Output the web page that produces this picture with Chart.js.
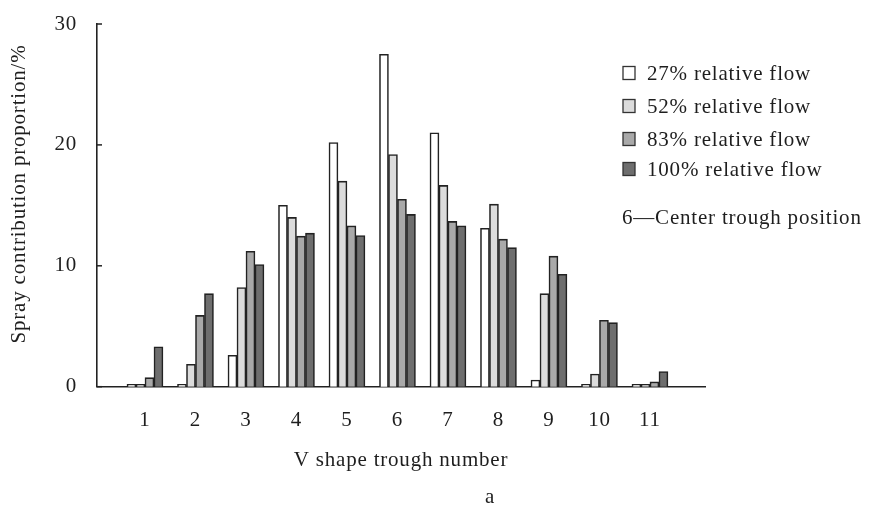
<!DOCTYPE html>
<html>
<head>
<meta charset="utf-8">
<script src="https://cdn.jsdelivr.net/npm/chart.js@4.4.1/dist/chart.umd.min.js"></script>
<style>
html,body{margin:0;padding:0;background:#fff;}
#wrap{width:871px;height:508px;}
</style>
</head>
<body>
<div id="wrap"><canvas id="c" width="871" height="508"></canvas></div>
<script>
// ---- data ----
const categories = [1, 2, 3, 4, 5, 6, 7, 8, 9, 10, 11];
const flow27  = [0.2, 0.2, 2.6, 15.0, 20.2, 27.5, 21.0, 13.1, 0.55, 0.2, 0.2];
const flow52  = [0.2, 1.85, 8.2, 14.0, 17.0, 19.2, 16.65, 15.1, 7.7, 1.05, 0.2];
const flow83  = [0.75, 5.9, 11.2, 12.45, 13.3, 15.5, 13.67, 12.2, 10.8, 5.5, 0.4];
const flow100 = [3.3, 7.7, 10.1, 12.7, 12.5, 14.25, 13.3, 11.5, 9.3, 5.3, 1.25];
const seriesLabels = ['27% relative flow', '52% relative flow', '83% relative flow', '100% relative flow'];
const yTicks = [0, 10, 20, 30];
const xTitle = 'V shape trough number';
const yTitle = 'Spray contribution proportion/%';
const noteText = '6\u2014Center trough position';
const captionText = 'a';

// ---- styles ----
const FONT = '"Liberation Serif", "DejaVu Serif", serif';
const FS = 21;
const LS = '0.8px';
const TEXT = '#1e1e1e';
const fills = ['#ffffff', '#dcdcdc', '#a9a9a9', '#6e6e6e'];
const allSeries = [flow27, flow52, flow83, flow100];

const datasets = allSeries.map((arr, i) => ({
  label: seriesLabels[i],
  data: categories.map((c, j) => ({x: c, y: arr[j]})),
  backgroundColor: fills[i],
  borderColor: '#222',
  borderWidth: 1.6,
  barThickness: 9
}));

const spacingPlugin = {
  id: 'spacing',
  beforeUpdate(chart) { chart.ctx.letterSpacing = LS; },
  beforeDraw(chart) { chart.ctx.letterSpacing = LS; }
};

const extrasPlugin = {
  id: 'extras',
  afterDraw(chart) {
    const ctx = chart.ctx;
    const area = chart.chartArea;
    const ys = chart.scales.y;
    ctx.save();
    ctx.letterSpacing = LS;
    // inner tick marks on y axis
    ctx.strokeStyle = '#222';
    ctx.lineWidth = 1.5;
    yTicks.forEach(v => {
      const y = ys.getPixelForValue(v);
      ctx.beginPath();
      ctx.moveTo(area.left, y);
      ctx.lineTo(area.left + 5, y);
      ctx.stroke();
    });
    // y-axis title
    ctx.font = FS + 'px ' + FONT;
    ctx.fillStyle = TEXT;
    ctx.textAlign = 'center';
    ctx.textBaseline = 'middle';
    ctx.save();
    ctx.translate(19, 194);
    ctx.rotate(-Math.PI / 2);
    ctx.fillText(yTitle, 0, 0);
    ctx.restore();
    // legend
    ctx.textAlign = 'left';
    const rows = [73, 106, 139, 169];
    chart.data.datasets.forEach((ds, i) => {
      const y = rows[i];
      ctx.fillStyle = ds.backgroundColor;
      ctx.fillRect(623, y - 6.5, 12, 13);
      ctx.strokeStyle = '#333';
      ctx.lineWidth = 1.3;
      ctx.strokeRect(623, y - 6.5, 12, 13);
      ctx.fillStyle = TEXT;
      ctx.fillText(ds.label, 647, y + 1);
    });
    ctx.fillStyle = TEXT;
    ctx.fillText(noteText, 622, 218);
    // caption
    ctx.textAlign = 'center';
    ctx.fillText(captionText, 490, 497);
    ctx.restore();
  }
};

new Chart(document.getElementById('c'), {
  type: 'bar',
  data: { datasets },
  plugins: [spacingPlugin, extrasPlugin],
  options: {
    responsive: false,
    animation: false,
    events: [],
    layout: { padding: { left: 0, right: 166, top: 24, bottom: 34.6 } },
    plugins: { legend: { display: false }, tooltip: { enabled: false } },
    scales: {
      x: {
        type: 'linear',
        min: 0.05,
        max: 12.09,
        offset: false,
        afterBuildTicks(scale) { scale.ticks = categories.map(v => ({ value: v })); },
        afterFit(scale) { scale.height = 86.7; scale.paddingLeft = 0; scale.paddingRight = 0; },
        grid: { display: false, drawTicks: false },
        border: { display: true, color: '#222', width: 1.6 },
        ticks: {
          color: TEXT, font: { family: FONT, size: FS }, padding: 21,
          maxRotation: 0, autoSkip: false,
          callback: v => String(v)
        },
        title: {
          display: true, text: xTitle, color: TEXT,
          font: { family: FONT, size: FS }, padding: { top: 0, bottom: 0 }
        }
      },
      y: {
        min: 0, max: 30,
        afterBuildTicks(scale) { scale.ticks = yTicks.map(v => ({ value: v })); },
        afterFit(scale) { scale.width = 97; scale.paddingTop = 0; scale.paddingBottom = 0; },
        grid: { display: false, drawTicks: false },
        border: { display: true, color: '#222', width: 1.6 },
        ticks: { color: TEXT, font: { family: FONT, size: FS }, padding: 20 },
        title: { display: false }
      }
    }
  }
});
</script>
</body>
</html>
